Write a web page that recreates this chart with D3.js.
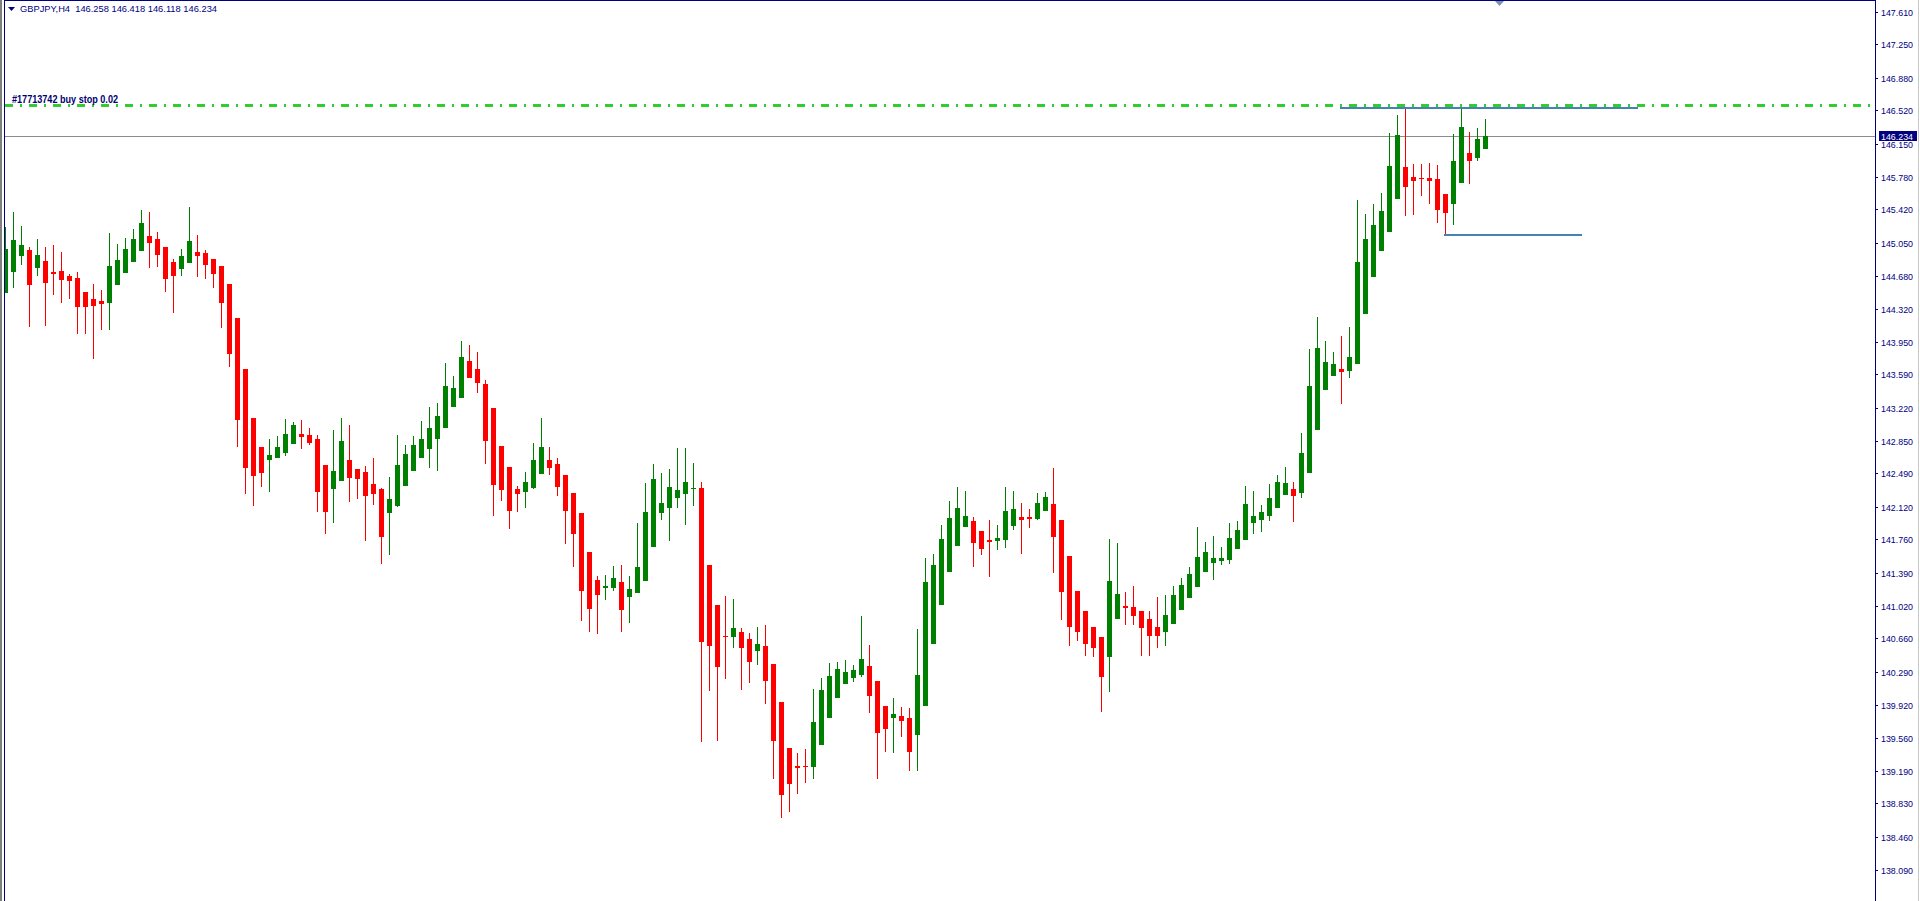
<!DOCTYPE html>
<html><head><meta charset="utf-8">
<script src="https://cdn.jsdelivr.net/npm/d3@7"></script>
<style>html,body{margin:0;padding:0;background:#fff;overflow:hidden}</style>
</head><body><svg id="c" width="1920" height="901"></svg>
<script>
const symbolTitle = "GBPJPY,H4  146.258 146.418 146.118 146.234";
const orderLabel = "#17713742 buy stop 0.02";
const orderPrice = 146.575;
const lastPrice = 146.234;
const lastPriceLabel = "146.234";
const levelStart = [166.8, 179.8];
const levelEnd = [204.1, 197.0];
const levelPrice = [146.545, 145.14];
const priceTicks = ["147.610","147.250","146.880","146.520","146.150","145.780","145.420","145.050","144.680","144.320","143.950","143.590","143.220","142.850","142.490","142.120","141.760","141.390","141.020","140.660","140.290","139.920","139.560","139.190","138.830","138.460","138.090","137.720"];

const opens = [144.49,144.73,144.90,144.97,144.77,144.85,144.73,144.74,144.68,144.66,144.50,144.43,144.40,144.38,144.58,144.71,144.84,144.96,145.13,145.09,
145.00,144.84,144.76,144.83,144.95,144.94,144.87,144.79,144.59,144.21,143.65,143.11,142.78,142.64,142.66,142.72,142.82,142.93,142.92,142.87,
142.58,142.32,142.41,142.64,142.54,142.51,142.37,142.32,142.05,142.13,142.35,142.52,142.66,142.76,142.87,142.99,143.23,143.33,143.74,143.65,
143.48,143.22,142.80,142.56,142.32,142.28,142.33,142.48,142.64,142.60,142.47,142.27,142.05,141.62,141.31,141.22,141.22,141.29,141.12,141.16,
141.30,141.67,142.05,142.11,142.22,142.26,142.32,142.33,141.47,141.03,140.69,140.68,140.73,140.65,140.52,140.57,140.38,139.95,139.44,139.24,
139.24,139.23,139.48,139.78,140.00,140.15,140.22,140.25,140.35,140.19,139.91,139.78,139.80,139.78,139.59,139.91,140.60,141.03,141.40,141.69,
141.90,141.96,141.85,141.75,141.74,141.75,141.91,142.01,142.01,141.98,142.07,142.15,141.97,141.57,141.19,140.96,140.79,140.68,140.45,140.88,
141.02,141.01,140.96,140.88,140.79,140.73,140.82,140.98,141.11,141.23,141.40,141.50,141.52,141.53,141.65,141.75,141.94,141.97,142.02,142.11,
142.25,142.32,142.27,142.50,142.97,143.42,143.57,143.65,143.63,143.70,144.26,144.67,144.96,145.17,145.54,145.89,145.78,145.77,145.77,145.76,
145.59,145.48,145.71,146.04,145.99,146.09];
const highs = [145.22,145.39,145.24,145.00,145.09,145.00,145.03,144.95,144.70,144.73,144.50,144.59,144.53,145.16,145.04,145.10,145.20,145.41,145.39,145.17,
145.00,144.87,144.98,145.45,145.14,144.97,144.87,144.79,144.59,144.21,143.65,143.11,142.78,142.87,142.91,143.09,143.06,143.08,142.99,142.92,
142.58,142.97,143.11,143.03,142.54,142.57,142.66,142.33,142.45,142.92,142.81,142.91,143.07,143.23,143.27,143.72,143.57,143.96,143.92,143.84,
143.53,143.22,142.80,142.56,142.35,142.51,142.83,143.11,142.78,142.66,142.47,142.27,142.05,141.62,141.35,141.36,141.46,141.47,141.35,141.94,
142.38,142.60,142.50,142.54,142.77,142.77,142.61,142.40,141.47,141.03,141.13,141.10,140.78,140.72,140.79,140.81,140.38,139.95,139.44,139.39,
139.43,140.10,140.22,140.39,140.40,140.42,140.37,140.91,140.59,140.19,139.91,140.00,139.90,139.89,140.76,141.55,141.60,141.92,142.18,142.34,
142.30,142.01,141.85,141.97,141.92,142.34,142.30,142.16,142.10,142.27,142.28,142.55,141.97,141.57,141.19,140.96,140.79,140.68,141.76,141.72,
141.17,141.24,140.96,140.96,141.12,141.14,141.24,141.33,141.45,141.90,141.73,141.80,141.67,141.94,141.96,142.35,142.30,142.14,142.37,142.47,
142.56,142.40,142.94,143.87,144.23,143.96,143.84,144.02,144.11,145.52,145.37,145.48,145.60,146.27,146.47,146.53,145.92,145.92,145.94,145.91,
145.59,146.26,146.53,146.28,146.32,146.42];
const lows = [144.49,144.55,144.80,144.11,144.68,144.13,144.47,144.38,144.43,144.04,144.04,143.76,144.08,144.08,144.58,144.71,144.84,144.96,144.77,144.78,
144.50,144.27,144.68,144.83,144.67,144.65,144.55,144.10,143.67,142.78,142.26,142.13,142.34,142.28,142.66,142.68,142.82,142.76,142.81,142.06,
141.82,141.94,142.41,142.17,142.21,141.74,142.14,141.49,141.59,142.12,142.35,142.52,142.66,142.55,142.52,142.99,143.23,143.33,143.55,143.38,
142.60,142.02,142.18,141.87,142.06,142.11,142.32,142.48,142.47,142.24,141.71,141.45,140.85,140.73,140.71,141.09,141.19,140.73,140.83,141.16,
141.30,141.67,141.97,141.74,142.11,141.92,142.13,139.51,140.08,139.52,140.21,140.55,140.09,140.17,140.37,139.93,139.10,138.67,138.73,138.93,
139.06,139.10,139.48,139.78,140.00,140.15,140.18,140.23,139.83,139.10,139.40,139.39,139.57,139.19,139.19,139.91,140.60,141.03,141.40,141.69,
141.90,141.45,141.59,141.34,141.64,141.66,141.86,141.60,141.88,141.97,142.07,141.39,140.86,140.58,140.63,140.47,140.45,139.84,140.07,140.88,
140.81,140.81,140.47,140.47,140.55,140.57,140.82,140.98,141.11,141.23,141.40,141.31,141.47,141.49,141.65,141.75,141.82,141.84,141.96,142.11,
142.25,141.95,142.22,142.50,142.97,143.42,143.57,143.26,143.55,143.70,144.26,144.67,144.96,145.17,145.54,145.35,145.36,145.57,145.48,145.27,
145.15,145.25,145.71,145.70,145.96,146.09];
const closes = [144.98,145.08,145.03,144.58,144.91,144.60,144.70,144.64,144.63,144.34,144.34,144.35,144.37,144.79,144.86,144.98,145.09,145.27,145.05,144.91,
144.65,144.68,144.90,145.07,144.90,144.80,144.70,144.38,143.82,143.08,142.55,142.46,142.50,142.70,142.78,142.93,143.03,142.89,142.83,142.28,
142.06,142.52,142.85,142.44,142.43,142.24,142.26,141.78,142.21,142.58,142.71,142.81,142.87,142.99,143.13,143.46,143.44,143.78,143.55,143.49,
142.85,142.36,142.31,142.07,142.26,142.40,142.64,142.78,142.55,142.34,142.07,141.82,141.19,140.99,141.14,141.24,141.33,140.98,141.21,141.45,
142.06,142.43,142.16,142.34,142.31,142.40,142.33,140.62,140.57,140.34,140.68,140.78,140.55,140.40,140.60,140.19,139.52,138.92,139.04,139.22,
139.23,139.73,140.09,140.24,140.32,140.29,140.31,140.43,140.02,139.61,139.65,139.82,139.74,139.40,140.25,141.29,141.47,141.76,142.00,142.11,
142.02,141.72,141.65,141.73,141.77,142.07,142.10,141.97,141.98,142.16,142.23,141.78,141.17,140.79,140.73,140.60,140.55,140.23,141.30,141.15,
141.00,140.91,140.78,140.69,140.69,140.92,141.14,141.25,141.37,141.56,141.62,141.55,141.55,141.77,141.86,142.15,142.02,142.06,142.22,142.40,
142.38,142.24,142.72,143.46,143.88,143.73,143.70,143.62,143.78,144.84,145.09,145.25,145.40,145.90,146.24,145.67,145.74,145.76,145.74,145.41,
145.38,145.96,146.33,145.96,146.20,146.234];

const W = 1920, H = 901, axisX = 1875;
const NAVY = "#000080";
const svg = d3.select("#c").attr("shape-rendering", "crispEdges");
const x = d3.scaleLinear().domain([0, opens.length - 1]).range([5.5, 1485.5]);
const y = d3.scaleLinear().domain([147.61, 138.09]).range([12, 870]);

svg.append("rect").attr("width", W).attr("height", H).attr("fill", "#fff");
svg.append("defs").append("clipPath").attr("id", "plot")
  .append("rect").attr("x", 5).attr("y", 1).attr("width", axisX - 5).attr("height", H);

const plot = svg.append("g").attr("clip-path", "url(#plot)");

// current price line
plot.append("line").attr("x1", 5).attr("x2", axisX).attr("y1", Math.round(y(lastPrice)) + 0.5).attr("y2", Math.round(y(lastPrice)) + 0.5)
  .attr("stroke", "#8c8c8c").attr("stroke-width", 1);

// candles
const data = opens.map((o, i) => ({i, o, h: highs[i], l: lows[i], c: closes[i]}));
const col = d => d.c >= d.o ? "#008000" : "#ff0000";
plot.selectAll(".wick").data(data).join("rect")
  .attr("x", d => x(d.i) - 0.5).attr("width", 1)
  .attr("y", d => Math.round(y(d.h))).attr("height", d => Math.max(1, Math.round(y(d.l)) - Math.round(y(d.h))))
  .attr("fill", col);
plot.selectAll(".body").data(data).join("rect")
  .attr("x", d => x(d.i) - 2.5).attr("width", 5)
  .attr("y", d => Math.round(y(Math.max(d.o, d.c))))
  .attr("height", d => Math.max(1, Math.round(y(Math.min(d.o, d.c))) - Math.round(y(Math.max(d.o, d.c)))))
  .attr("fill", col);

// level lines (steel blue)
levelPrice.forEach((p, j) => {
  plot.append("line").attr("x1", x(levelStart[j])).attr("x2", x(levelEnd[j]))
    .attr("y1", y(p)).attr("y2", y(p)).attr("stroke", "#4682b4").attr("stroke-width", 2);
});

// pending order line
plot.append("line").attr("x1", 5).attr("x2", axisX).attr("y1", y(orderPrice)).attr("y2", y(orderPrice))
  .attr("stroke", "#32cd32").attr("stroke-width", 3).attr("stroke-dasharray", "8,6.7,2.7,6.6");
svg.append("text").attr("x", 12).attr("y", y(orderPrice) - 2).text(orderLabel)
  .attr("font-family", "Liberation Sans, Arial, sans-serif").attr("font-size", 10).attr("font-weight", "bold")
  .attr("fill", "#000070").attr("textLength", 106).attr("lengthAdjust", "spacingAndGlyphs")
  .attr("shape-rendering", "auto");

// frame
svg.append("rect").attr("x", 0).attr("y", 0).attr("width", 2).attr("height", H).attr("fill", "#808080");
svg.append("rect").attr("x", 4).attr("y", 0).attr("width", 1).attr("height", H).attr("fill", NAVY);
svg.append("rect").attr("x", 4).attr("y", 0).attr("width", axisX - 4).attr("height", 1).attr("fill", NAVY);
svg.append("rect").attr("x", axisX).attr("y", 0).attr("width", 1).attr("height", H).attr("fill", NAVY);
svg.append("rect").attr("x", 1918).attr("y", 0).attr("width", 1).attr("height", H).attr("fill", "#c8c8c8");

// chart shift marker
const sx = x(opens.length - 1) + 14;
svg.append("path").attr("d", `M${sx - 4.5},1 L${sx + 4.5},1 L${sx},6 Z`).attr("fill", "#7f91b3").attr("shape-rendering", "auto");

// title
svg.append("path").attr("d", "M8,7 L15,7 L11.5,11 Z").attr("fill", NAVY).attr("shape-rendering", "auto");
svg.append("text").attr("x", 20).attr("y", 12).text(symbolTitle)
  .attr("font-family", "Liberation Sans, Arial, sans-serif").attr("font-size", 9.5).attr("fill", NAVY)
  .attr("textLength", 197).attr("lengthAdjust", "spacingAndGlyphs").attr("xml:space", "preserve")
  .style("white-space", "pre");

// price axis
const ax = svg.append("g");
priceTicks.forEach(t => {
  const ty = Math.round(y(+t));
  ax.append("rect").attr("x", axisX + 1).attr("y", ty).attr("width", 2).attr("height", 1).attr("fill", NAVY);
  ax.append("text").attr("x", 1881).attr("y", ty + 3.5).text(t)
    .attr("font-family", "Liberation Sans, Arial, sans-serif").attr("font-size", 9).attr("fill", NAVY)
    .attr("textLength", 32).attr("lengthAdjust", "spacingAndGlyphs");
});
const ly = y(lastPrice);
svg.append("rect").attr("x", 1879).attr("y", Math.round(ly) - 5).attr("width", 38).attr("height", 10).attr("fill", NAVY);
svg.append("text").attr("x", 1881).attr("y", Math.round(ly) + 3.5).text(lastPriceLabel)
  .attr("font-family", "Liberation Sans, Arial, sans-serif").attr("font-size", 9).attr("fill", "#fff")
  .attr("textLength", 32).attr("lengthAdjust", "spacingAndGlyphs");
</script>
</body></html>
